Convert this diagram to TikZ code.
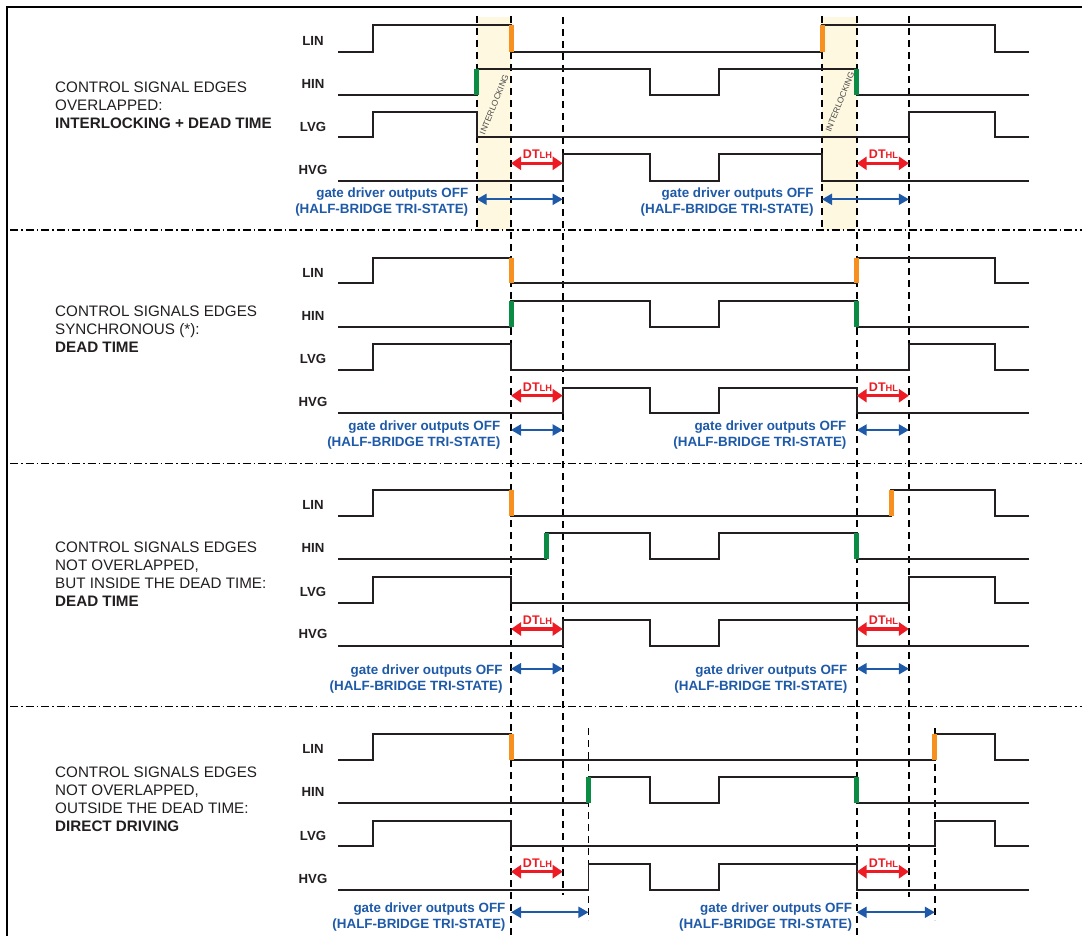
\documentclass[tikz,border=0pt]{standalone}
\usepackage{fontspec}
\setmainfont{Liberation Sans}
\usetikzlibrary{arrows.meta}
\definecolor{wave}{HTML}{231F20}
\definecolor{ored}{HTML}{ED1C24}
\definecolor{oblue}{HTML}{1E5AA8}
\definecolor{orng}{HTML}{F7901E}
\definecolor{grn}{HTML}{0B8C45}
\definecolor{beige}{HTML}{FDF8DF}
\tikzset{
 wav/.style={draw=wave, line width=1.8pt, line join=miter},
 vdash/.style={draw=black, line width=1.7pt, dash pattern=on 7pt off 5pt},
 sepline/.style={draw=black, line width=1.3pt, dash pattern=on 8pt off 3pt on 1.5pt off 3pt},
 omark/.style={draw=orng, line width=5pt},
 gmark/.style={draw=grn, line width=5pt},
 dtarr/.style={draw=ored, line width=3.2pt, >={Triangle[length=10pt,width=13pt]}, <->},
 offarr/.style={draw=oblue, line width=2pt, >={Triangle[length=10pt,width=11pt]}, <->},
 siglbl/.style={font=\fontsize{13.2}{13.2}\selectfont\bfseries, text=wave, inner sep=0pt, anchor=center},
 desc/.style={font=\fontsize{15.2}{18.3}\selectfont, text=wave, align=left, inner sep=0pt, anchor=north west},
 offtxt/.style={font=\fontsize{13.4}{16}\selectfont\bfseries, text=oblue, align=right, inner sep=0pt, anchor=north east},
 dtlbl/.style={font=\fontsize{12.5}{12.5}\selectfont\bfseries, text=ored, inner sep=0pt, anchor=base},
 ilock/.style={font=\fontsize{8.5}{8.5}\selectfont, text=black!70, rotate=68, inner sep=0pt},
}
\newcommand{\subLH}{{\fontsize{9.3}{9.3}\selectfont LH}}
\newcommand{\subHL}{{\fontsize{9.3}{9.3}\selectfont HL}}
\begin{document}
\begin{tikzpicture}[x=1pt,y=-1pt]
\useasboundingbox (0,0) rectangle (1082,936);
\fill[white] (0,0) rectangle (1082,936);
% frame
\draw[line width=2.2pt] (7,936) -- (7,7) -- (1082,7);
% interlocking bands
\fill[beige] (476.7,17) rectangle (511,230);
\fill[beige] (822,17) rectangle (856.7,230);
% separators
\draw[sepline] (10,230) -- (1082,230);
\draw[sepline] (10,463.5) -- (1082,463.5);
\draw[sepline] (10,706.5) -- (1082,706.5);
% dashed time markers
\draw[vdash] (476.7,16) -- (476.7,230);
\draw[vdash] (822,16) -- (822,230);
\draw[vdash] (511,16) -- (511,936);
\draw[vdash] (562.7,17) -- (562.7,895);
\draw[vdash] (856.7,16) -- (856.7,936);
\draw[vdash] (908.9,16) -- (908.9,897);
\draw[vdash] (588.4,728) -- (588.4,920);
\draw[vdash] (934.8,728) -- (934.8,920);
% interlocking labels
\node[ilock] (il1) at (494.2,104.5) {INTERLOCKING};
\node[ilock] (il2) at (840,101.7) {INTERLOCKING};

% ===== Section 1 =====
\draw[wav] (338,51.7) -| (372.7,25) -| (511,51.7) -| (822,25) -| (994.6,51.7) -- (1029,51.7);
\draw[wav] (338,94.7) -| (476.7,69) -| (649.6,94.7) -| (718.7,69) -| (856.7,94.7) -- (1029,94.7);
\draw[wav] (338,137.3) -| (372.7,112.3) -| (476.7,137.3) -| (908.9,112.3) -| (994.6,137.3) -- (1029,137.3);
\draw[wav] (338,181) -| (562.7,154.3) -| (649.6,181) -| (718.7,154.3) -| (822,181) -- (1029,181);
\draw[omark] (511,25) -- (511,51.7);
\draw[omark] (822,25) -- (822,51.7);
\draw[gmark] (476.7,69) -- (476.7,94.7);
\draw[gmark] (856.7,69) -- (856.7,94.7);

% ===== Section 2 =====
\draw[wav] (338,283.3) -| (372.7,258.3) -| (511,283.3) -| (856.7,258.3) -| (994.6,283.3) -- (1029,283.3);
\draw[wav] (338,326.7) -| (511,300.7) -| (649.6,326.7) -| (718.7,300.7) -| (856.7,326.7) -- (1029,326.7);
\draw[wav] (338,370) -| (372.7,344) -| (511,370) -| (908.9,344) -| (994.6,370) -- (1029,370);
\draw[wav] (338,413.3) -| (562.7,388.3) -| (649.6,413.3) -| (718.7,388.3) -| (856.7,413.3) -- (1029,413.3);
\draw[omark] (511,258.3) -- (511,283.3);
\draw[omark] (856.7,258.3) -- (856.7,283.3);
\draw[gmark] (511,300.7) -- (511,326.7);
\draw[gmark] (856.7,300.7) -- (856.7,326.7);

% ===== Section 3 =====
\draw[wav] (338,516) -| (372.7,490) -| (511,516) -| (891,490) -| (994.6,516) -- (1029,516);
\draw[wav] (338,559) -| (546,533.3) -| (649.6,559) -| (718.7,533.3) -| (856.7,559) -- (1029,559);
\draw[wav] (338,602.7) -| (372.7,576.7) -| (511,602.7) -| (908.9,576.7) -| (994.6,602.7) -- (1029,602.7);
\draw[wav] (338,645.7) -| (562.7,620) -| (649.6,645.7) -| (718.7,620) -| (856.7,645.7) -- (1029,645.7);
\draw[omark] (511,490) -- (511,516);
\draw[omark] (891,490) -- (891,516);
\draw[gmark] (546,533.3) -- (546,559);
\draw[gmark] (856.7,533.3) -- (856.7,559);

% ===== Section 4 =====
\draw[wav] (338,760) -| (372.7,734) -| (511,760) -| (934.8,734) -| (994.6,760) -- (1029,760);
\draw[wav] (338,803.3) -| (588.4,777.3) -| (649.6,803.3) -| (718.7,777.3) -| (856.7,803.3) -- (1029,803.3);
\draw[wav] (338,846) -| (372.7,820.7) -| (511,846) -| (934.8,820.7) -| (994.6,846) -- (1029,846);
\draw[wav] (338,890) -| (588.4,864) -| (649.6,890) -| (718.7,864) -| (856.7,890) -- (1029,890);
\draw[omark] (511,734) -- (511,760);
\draw[omark] (934.8,734) -- (934.8,760);
\draw[gmark] (588.4,777.3) -- (588.4,803.3);
\draw[gmark] (856.7,777.3) -- (856.7,803.3);

% ===== arrow end points =====
\coordinate (d1a) at (511,163.3);   \coordinate (d1b) at (562.7,163.3);
\coordinate (d1c) at (856.7,163.3); \coordinate (d1d) at (908.9,163.3);
\coordinate (b1a) at (476.7,199.3); \coordinate (b1b) at (562.7,199.3);
\coordinate (b1c) at (822,199.3);   \coordinate (b1d) at (908.9,199.3);
\coordinate (d2a) at (511,395.7);   \coordinate (d2b) at (562.7,395.7);
\coordinate (d2c) at (856.7,395.7); \coordinate (d2d) at (908.9,395.7);
\coordinate (b2a) at (511,430);     \coordinate (b2b) at (562.7,430);
\coordinate (b2c) at (856.7,430);   \coordinate (b2d) at (908.9,430);
\coordinate (d3a) at (511,629);     \coordinate (d3b) at (562.7,629);
\coordinate (d3c) at (856.7,629);   \coordinate (d3d) at (908.9,629);
\coordinate (b3a) at (511,668.7);   \coordinate (b3b) at (562.7,668.7);
\coordinate (b3c) at (856.7,668.7); \coordinate (b3d) at (908.9,668.7);
\coordinate (d4a) at (511,871.7);   \coordinate (d4b) at (562.7,871.7);
\coordinate (d4c) at (856.7,871.7); \coordinate (d4d) at (908.9,871.7);
\coordinate (b4a) at (511,912.3);   \coordinate (b4b) at (588.4,912.3);
\coordinate (b4c) at (856.7,912.3); \coordinate (b4d) at (934.8,912.3);

\foreach \s in {1,2,3,4}{
  \draw[dtarr] (d\s a) -- (d\s b);
  \draw[dtarr] (d\s c) -- (d\s d);
  \draw[offarr] (b\s a) -- (b\s b);
  \draw[offarr] (b\s c) -- (b\s d);
}

% DT labels
\node[dtlbl] (lh1) at (537.5,158.8) {DT\subLH};
\node[dtlbl] (hl1) at (883.5,158.8) {DT\subHL};
\node[dtlbl] (lh2) at (537.5,391.3) {DT\subLH};
\node[dtlbl] (hl2) at (883.5,391.3) {DT\subHL};
\node[dtlbl] (lh3) at (537.5,624.8) {DT\subLH};
\node[dtlbl] (hl3) at (883.5,624.8) {DT\subHL};
\node[dtlbl] (lh4) at (537.5,867.3) {DT\subLH};
\node[dtlbl] (hl4) at (883.5,867.3) {DT\subHL};

% gate driver texts
\node[offtxt] (g1a) at (468.4,187.6) {gate driver outputs OFF\\(HALF-BRIDGE TRI-STATE)};
\node[offtxt] (g1b) at (813.8,187.6) {gate driver outputs OFF\\(HALF-BRIDGE TRI-STATE)};
\node[offtxt] (g2a) at (500.4,421) {gate driver outputs OFF\\(HALF-BRIDGE TRI-STATE)};
\node[offtxt] (g2b) at (846.6,421) {gate driver outputs OFF\\(HALF-BRIDGE TRI-STATE)};
\node[offtxt] (g3a) at (502.8,665) {gate driver outputs OFF\\(HALF-BRIDGE TRI-STATE)};
\node[offtxt] (g3b) at (847.5,665) {gate driver outputs OFF\\(HALF-BRIDGE TRI-STATE)};
\node[offtxt] (g4a) at (505.6,902.6) {gate driver outputs OFF\\(HALF-BRIDGE TRI-STATE)};
\node[offtxt] (g4b) at (852.2,902.6) {gate driver outputs OFF\\(HALF-BRIDGE TRI-STATE)};

% signal labels
\node[siglbl] (lin1) at (313,40.7) {LIN};
\node[siglbl] (hin1) at (313,84) {HIN};
\node[siglbl] (lvg1) at (313,127.3) {LVG};
\node[siglbl] (hvg1) at (313,170) {HVG};
\node[siglbl] (lin2) at (313,272.7) {LIN};
\node[siglbl] (hin2) at (313,316) {HIN};
\node[siglbl] (lvg2) at (313,359) {LVG};
\node[siglbl] (hvg2) at (313,402.3) {HVG};
\node[siglbl] (lin3) at (313,505) {LIN};
\node[siglbl] (hin3) at (313,548.3) {HIN};
\node[siglbl] (lvg3) at (313,591.7) {LVG};
\node[siglbl] (hvg3) at (313,634) {HVG};
\node[siglbl] (lin4) at (313,749.3) {LIN};
\node[siglbl] (hin4) at (313,792.3) {HIN};
\node[siglbl] (lvg4) at (313,835.7) {LVG};
\node[siglbl] (hvg4) at (313,879.3) {HVG};

% section descriptions
\node[desc] (t1) at (55,81.2) {CONTROL SIGNAL EDGES\\OVERLAPPED:\\\textbf{INTERLOCKING + DEAD TIME}};
\node[desc] (t2) at (55,305.5) {CONTROL SIGNALS EDGES\\SYNCHRONOUS (*):\\\textbf{DEAD TIME}};
\node[desc] (t3) at (55,541.2) {CONTROL SIGNALS EDGES\\NOT OVERLAPPED,\\BUT INSIDE THE DEAD TIME:\\\textbf{DEAD TIME}};
\node[desc] (t4) at (55,766.2) {CONTROL SIGNALS EDGES\\NOT OVERLAPPED,\\OUTSIDE THE DEAD TIME:\\\textbf{DIRECT DRIVING}};
\end{tikzpicture}
\end{document}
